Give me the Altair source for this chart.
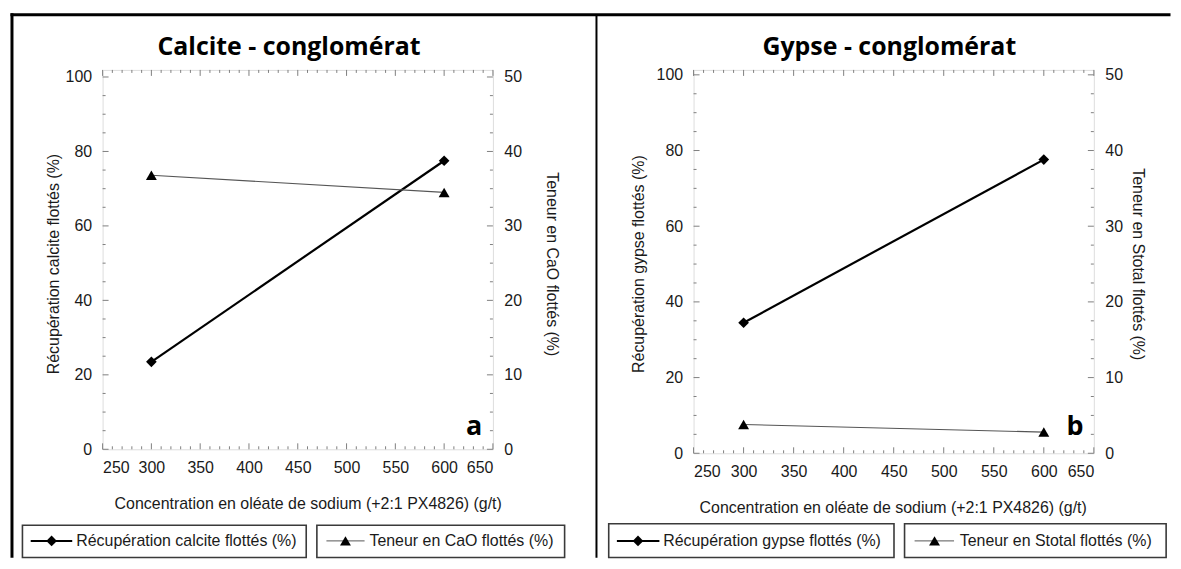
import altair as alt
import pandas as pd

# ---------------- data ----------------
conc = [300, 600]
rec_calcite = [23.5, 77.5]
ten_cao = [36.8, 34.5]
rec_gypse = [34.5, 77.6]
ten_stotal = [3.8, 2.8]

x_major = [250, 300, 350, 400, 450, 500, 550, 600, 650]
x_minor = [v for v in range(250, 651, 10) if v % 50]
y_major = [0, 20, 40, 60, 80, 100]
y_minor = [v for v in range(0, 101, 5) if v % 20]
y2_major = [0, 10, 20, 30, 40, 50]
y2_minor = [v / 2 for v in range(0, 101, 5) if v % 20]

x_title = "Concentration en oléate de sodium (+2:1 PX4826) (g/t)"

FONT = "Liberation Sans"
TFONT = "Open Sans"
GRAY = "#7f7f7f"
TXT = "#1a1a1a"
ONE = pd.DataFrame({"d": [0]})


def ticks_df(vals):
    return pd.DataFrame({"v": vals})


def panel(W, H, ytop, rec, ten, title, letter, ytitle, y2title, P):
    xs = alt.Scale(domain=[250, 650], nice=False, zero=False)
    ys = alt.Scale(domain=[0, ytop], nice=False)
    ys2 = alt.Scale(domain=[0, ytop / 2], nice=False)
    df = pd.DataFrame({"conc": conc, "rec": rec, "ten": ten})
    base = alt.Chart(df)

    xaxis = alt.Axis(values=x_major, ticks=False, tickSize=0, domain=False, grid=False,
                     labelPadding=18.5, labelBaseline="middle", labelFont=FONT,
                     labelFontSize=16, labelColor=TXT, title=x_title, titleFont=FONT,
                     titleFontSize=16, titleFontWeight="normal", titleColor=TXT,
                     titleX=P["xtx"], titleY=54, titleBaseline="middle", titleAlign="center")
    yaxis = alt.Axis(values=y_major, orient="left", ticks=False, tickSize=0, domain=False, grid=False,
                     labelPadding=11, labelFont=FONT, labelFontSize=16, labelColor=TXT,
                     title=ytitle, titleFont=FONT, titleFontSize=16, titleFontWeight="normal",
                     titleColor=TXT, titleX=P["ytx"], titleY=194.5, titleAngle=270,
                     titleAlign="center", titleBaseline="middle")
    y2axis = alt.Axis(values=y2_major, orient="right", ticks=False, tickSize=0, domain=False,
                      grid=False, labelPadding=11, labelFont=FONT, labelFontSize=16,
                      labelColor=TXT, title=y2title, titleFont=FONT, titleFontSize=16,
                      titleFontWeight="normal", titleColor=TXT, titleX=P["y2tx"],
                      titleY=194.7, titleAngle=90, titleAlign="center", titleBaseline="middle")

    X = lambda f: alt.X(f, scale=xs, axis=xaxis)
    Y = lambda f: alt.Y(f, scale=ys, axis=yaxis)
    Y2 = lambda f: alt.Y(f, scale=ys2, axis=y2axis)

    rec_line = base.mark_line(color="black", strokeWidth=2.2).encode(x=X("conc:Q"), y=Y("rec:Q"))
    rec_pts = base.mark_point(shape="diamond", filled=True, size=115, color="black", opacity=1).encode(
        x=X("conc:Q"), y=Y("rec:Q"))

    def xt(vals, top, L):
        if top:
            yv, y2v = alt.value(0), alt.value(L)
        else:
            yv, y2v = alt.value(H), alt.value(H - L)
        return alt.Chart(ticks_df(vals)).mark_rule(color=GRAY, strokeWidth=1).encode(
            x=X("v:Q"), y=yv, y2=y2v)

    def ytk(vals, enc, right, L):
        if right:
            xv, x2v = alt.value(W), alt.value(W - L)
        else:
            xv, x2v = alt.value(0), alt.value(L)
        return alt.Chart(ticks_df(vals)).mark_rule(color=GRAY, strokeWidth=1).encode(
            y=enc("v:Q"), x=xv, x2=x2v)

    ticks = [xt(x_major, False, 6), xt(x_minor, False, 3), xt(x_major, True, 6), xt(x_minor, True, 3),
             ytk(y_major, Y, False, 6), ytk(y_minor, Y, False, 3)]

    # decorations (pixel positions relative to the plot area)
    one = alt.Chart(ONE)
    deco = []
    deco.append(one.mark_text(text=title, font=TFONT, fontWeight="bold", fontSize=P["tfs"],
                              color="black", align="center", baseline="alphabetic").encode(
        x=alt.value(P["tx"]), y=alt.value(-15.3)))
    deco.append(one.mark_text(text=letter, font=TFONT, fontWeight="bold", fontSize=27,
                              color="black", align="right", baseline="alphabetic").encode(
        x=alt.value(P["lx"]), y=alt.value(P["ly"])))
    for (a, b) in P["boxes"]:
        deco.append(one.mark_rect(fill="white", stroke="#3a3a3a", strokeWidth=1.6).encode(
            x=alt.value(a), x2=alt.value(b), y=alt.value(P["by"][0]), y2=alt.value(P["by"][1])))
    ly = 473
    l1, l2 = P["leg1"], P["leg2"]
    deco.append(one.mark_rule(color="black", strokeWidth=2).encode(
        x=alt.value(l1[0]), x2=alt.value(l1[1]), y=alt.value(ly)))
    deco.append(one.mark_point(shape="diamond", filled=True, size=115, color="black", opacity=1).encode(
        x=alt.value(l1[2]), y=alt.value(ly)))
    deco.append(one.mark_text(text=P["lt1"], font=FONT, fontSize=16, color=TXT, align="left",
                              baseline="middle").encode(x=alt.value(l1[3]), y=alt.value(ly)))
    deco.append(one.mark_rule(color="#555555", strokeWidth=1).encode(
        x=alt.value(l2[0]), x2=alt.value(l2[1]), y=alt.value(ly)))
    deco.append(one.mark_point(shape="triangle-up", filled=True, size=120, color="black", opacity=1).encode(
        x=alt.value(l2[2]), y=alt.value(ly)))
    deco.append(one.mark_text(text=P["lt2"], font=FONT, fontSize=16, color=TXT, align="left",
                              baseline="middle").encode(x=alt.value(l2[3]), y=alt.value(ly)))
    for r in P["rules"]:
        deco.append(one.mark_rule(color="black", strokeWidth=r[4]).encode(
            x=alt.value(r[0]), x2=alt.value(r[1]), y=alt.value(r[2]), y2=alt.value(r[3])))

    left_group = alt.layer(rec_line, rec_pts, *ticks, *deco)

    ten_line = base.mark_line(color="#555555", strokeWidth=1.1).encode(x=X("conc:Q"), y=Y2("ten:Q"))
    ten_pts = base.mark_point(shape="triangle-up", filled=True, size=120, color="black", opacity=1).encode(
        x=X("conc:Q"), y=Y2("ten:Q"))
    right_group = alt.layer(ten_line, ten_pts, ytk(y2_major, Y2, True, 6), ytk(y2_minor, Y2, True, 3))

    return alt.layer(left_group, right_group).resolve_scale(y="independent").properties(
        width=W, height=H)


left = panel(
    392, 381, 101.9, rec_calcite, ten_cao, "Calcite - conglomérat", "a",
    "Récupération calcite flottés (%)", "Teneur en CaO flottés (%)",
    dict(xtx=206, ytx=-49, y2tx=58.7, tfs=25, tx=187.2, lx=381.2, ly=366.3,
         boxes=[(-80.5, 204.5), (215.2, 464)], by=(457.3, 489.7),
         leg1=(-72.2, -30.5, -51.2, -26.5), leg2=(224.8, 263.1, 243.9, 268),
         lt1="Récupération calcite flottés (%)", lt2="Teneur en CaO flottés (%)",
         rules=[(-92.5, 1072.5, -55.5, -55.5, 3), (-91, -91, -57, 490, 3),
                (496, 496, -55.5, 490, 2)]))

right = panel(
    402, 385, 101.3, rec_gypse, ten_stotal, "Gypse - conglomérat", "b",
    "Récupération gypse flottés (%)", "Teneur en Stotal flottés (%)",
    dict(xtx=200, ytx=-55, y2tx=44.3, tfs=25, tx=196.6, lx=391.7, ly=367,
         boxes=[(-85.2, 201.3), (211.9, 474.6)], by=(455.7, 489.7),
         leg1=(-77, -34.3, -55.8, -30.5), leg2=(222, 261.6, 242, 267.3),
         lt1="Récupération gypse flottés (%)", lt2="Teneur en Stotal flottés (%)",
         rules=[]))

chart = alt.hconcat(left, right, spacing=201.5, bounds="flush").properties(
    padding={"left": 0, "top": 2, "right": 0, "bottom": 0}
).configure_view(stroke=GRAY, strokeWidth=1.5).configure(background="white")

chart.save("out.html", embed_options={"renderer": "svg", "actions": False})
